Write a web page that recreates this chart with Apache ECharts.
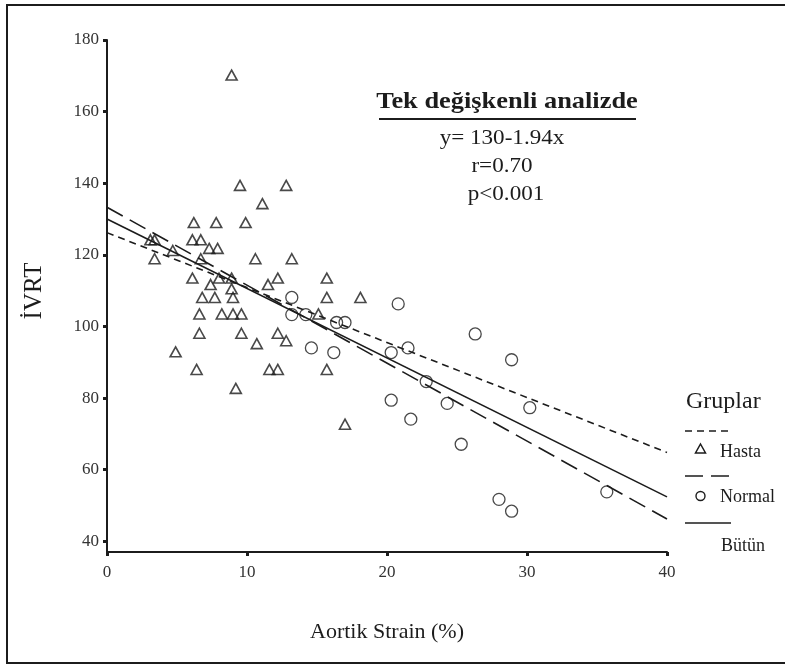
<!DOCTYPE html>
<html>
<head>
<meta charset="utf-8">
<script src="https://cdn.jsdelivr.net/npm/echarts@6/dist/echarts.min.js"></script>
<style>
  html,body{margin:0;padding:0;background:#fff}
  #chart{width:785px;height:666px}
</style>
</head>
<body>
<div id="chart"></div>
<script>
// data
const hastaPoints = [
  [8.9,170.2],
  [9.5,139.4],[12.8,139.4],
  [11.1,134.3],
  [6.2,129],[7.8,129],[9.9,129],
  [3.1,124.2],[3.4,124.2],[6.1,124.2],[6.7,124.2],
  [7.3,121.8],[7.9,121.8],[4.7,121.2],
  [3.4,118.9],[6.7,118.9],[10.6,118.9],[13.2,118.9],
  [6.1,113.5],[8.0,113.5],[8.9,113.5],[12.2,113.5],[15.7,113.5],
  [7.4,111.7],[11.5,111.7],[8.9,110.5],
  [6.8,108.1],[7.7,108.1],[9.0,108.1],[15.7,108.1],[18.1,108.1],
  [6.6,103.5],[8.2,103.5],[9.0,103.5],[9.6,103.5],[15.1,103.5],
  [6.6,98.1],[9.6,98.1],[12.2,98.1],
  [12.8,96],[10.7,95.2],[4.9,92.9],
  [6.4,88],[11.6,88],[12.2,88],[15.7,88],
  [9.2,82.7],[17.0,72.7]
]
const normalPoints = [
  [13.2,108.1],[13.2,103.3],[14.2,103.3],[16.4,101.1],[17.0,101.1],
  [20.8,106.3],[26.3,97.9],[14.6,94.0],[16.2,92.7],[20.3,92.7],
  [21.5,94.0],[28.9,90.7],[22.8,84.6],[20.3,79.4],[24.3,78.5],
  [30.2,77.3],[21.7,74.1],[25.3,67.1],[35.7,53.8],[28.0,51.7],[28.9,48.4]
]
// fit lines (end points)
const hastaLine = [[0,126.2],[40,64.8]]
const normalLine = [[0,133.3],[40,46.2]]
const butunLine = [[0,130],[40,52.4]]

const xTicks = [0,10,20,30,40]
const yTicks = [40,60,80,100,120,140,160,180]

const ink = '#1c1c1c'
const serif = '"Liberation Serif","DejaVu Serif",serif'

let chart = echarts.init(document.getElementById('chart'), null, {renderer:'canvas'})

let legendText = (txt, x, y, size) => ({
  type:'text', x:x, y:y,
  style:{text:txt, fill:ink, font:size+'px '+serif, textVerticalAlign:'middle'}
})
let legendLine = (y, dash) => {
  let st = {stroke:ink, lineWidth:1.6}
  if (dash) st.lineDash = dash
  return {type:'line', shape:{x1:685, y1:y, x2:731, y2:y}, style:st}
}
let noteText = (txt, x, y, font) => ({
  type:'text', x:x, y:y, scaleX:1.1,
  style:{text:txt, fill:ink, font:font, textAlign:'center', textVerticalAlign:'middle'}
})

let option = {
  backgroundColor:'#fff',
  animation:false,
  grid:{left:107, right:118, top:40, bottom:114},
  xAxis:{
    type:'value', min:0, max:40, interval:10,
    name:'Aortik Strain (%)', nameLocation:'middle', nameGap:69,
    nameTextStyle:{fontFamily:serif, fontSize:22, color:ink},
    axisLine:{onZero:false, lineStyle:{color:ink, width:2}},
    axisTick:{length:4, lineStyle:{color:ink, width:3}, customValues:xTicks},
    axisLabel:{fontFamily:serif, fontSize:17, color:'#333', margin:12, customValues:xTicks},
    splitLine:{show:false}
  },
  yAxis:{
    type:'value', min:37, max:180,
    name:'İVRT', nameLocation:'middle', nameGap:60, nameRotate:90,
    nameTextStyle:{fontFamily:serif, fontSize:25, color:ink, padding:[0,0,0,10]},
    axisLine:{show:true, onZero:false, lineStyle:{color:ink, width:2}},
    axisTick:{show:true, length:4, lineStyle:{color:ink, width:3}, customValues:yTicks},
    axisLabel:{fontFamily:serif, fontSize:17, color:'#333', margin:8, customValues:yTicks},
    splitLine:{show:false}
  },
  series:[
    {
      type:'line', data:hastaLine, symbol:'none',
      lineStyle:{color:ink, width:1.6, type:[7,5]}
    },
    {
      type:'line', data:normalLine, symbol:'none',
      lineStyle:{color:ink, width:1.6, type:[18,8]}
    },
    {
      type:'line', data:butunLine, symbol:'none',
      lineStyle:{color:ink, width:1.6}
    },
    {
      type:'scatter', data:hastaPoints, symbol:'triangle', symbolSize:[11,10],
      itemStyle:{color:'rgba(0,0,0,0)', borderColor:ink, borderWidth:1.6}
    },
    {
      type:'scatter', data:normalPoints, symbol:'circle', symbolSize:12,
      itemStyle:{color:'rgba(0,0,0,0)', borderColor:ink, borderWidth:1.3}
    }
  ],
  graphic:[
    // outer frame
    {type:'rect', shape:{x:7, y:5, width:800, height:658},
      style:{fill:null, stroke:ink, lineWidth:2}},
    // annotation
    noteText('Tek değişkenli analizde', 507, 102, 'bold 24px '+serif),
    {type:'line', shape:{x1:379, y1:119, x2:636, y2:119}, style:{stroke:ink, lineWidth:2}},
    noteText('y= 130-1.94x', 502, 138, '21px '+serif),
    noteText('r=0.70', 502, 166, '21px '+serif),
    noteText('p<0.001', 506, 194, '21px '+serif),
    // legend
    legendText('Gruplar', 686, 402, 24),
    legendLine(431, [7,5]),
    {type:'polygon', shape:{points:[[700.5,444],[705.5,453],[695.5,453]]},
      style:{fill:null, stroke:ink, lineWidth:1.5}},
    legendText('Hasta', 720, 452, 18),
    legendLine(476, [18,8]),
    {type:'circle', shape:{cx:700.5, cy:496, r:4.5}, style:{fill:null, stroke:ink, lineWidth:1.4}},
    legendText('Normal', 720, 497, 18),
    legendLine(523, null),
    legendText('Bütün', 721, 546, 18)
  ]
}
chart.setOption(option)
</script>
</body>
</html>
